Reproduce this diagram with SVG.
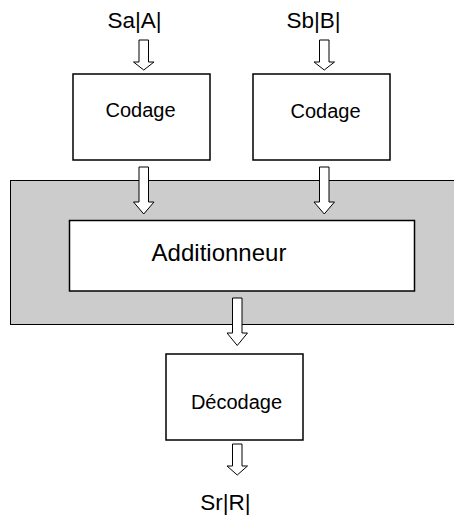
<svg xmlns="http://www.w3.org/2000/svg" width="454" height="515" viewBox="0 0 454 515">
<style>
.box{fill:#fff;stroke:#000;stroke-width:1.5}
.arr{fill:#fff;stroke:#000;stroke-width:1}
text{font-family:"Liberation Sans",Arial,sans-serif;fill:#000}
</style>
<rect width="454" height="515" fill="#fff"/>
<g id="background">
<rect x="10.5" y="180.5" width="450" height="144" fill="#cccccc" stroke="#000" stroke-width="1"/>
</g>
<g id="labels">
<text x="134.5" y="28" font-size="22.5" text-anchor="middle">Sa|A|</text>
<text x="313.5" y="28" font-size="22.5" text-anchor="middle">Sb|B|</text>
<text x="225.5" y="509.5" font-size="22.5" text-anchor="middle">Sr|R|</text>
</g>
<g id="codage-a">
<rect class="box" x="73" y="74" width="137" height="86"/>
<text x="140.5" y="116.5" font-size="20" text-anchor="middle">Codage</text>
</g>
<g id="codage-b">
<rect class="box" x="253" y="74" width="137" height="86"/>
<text x="325.5" y="118" font-size="20" text-anchor="middle">Codage</text>
</g>
<g id="additionneur">
<rect class="box" x="69.5" y="220.5" width="345" height="70.5"/>
<text x="219" y="261" font-size="24" text-anchor="middle">Additionneur</text>
</g>
<g id="decodage">
<rect class="box" x="166" y="354" width="137" height="86"/>
<text x="236.5" y="408.5" font-size="20" text-anchor="middle">Décodage</text>
</g>
<g id="connectors">
<polygon class="arr" points="139,40 148.5,40 148.5,62 154,62 143.75,70 133.5,62 139,62"/>
<polygon class="arr" points="319.5,40 329,40 329,62 334.5,62 324.25,70 314,62 319.5,62"/>
<polygon class="arr" points="139,167 148.5,167 148.5,202 154,202 143.75,214 133.5,202 139,202"/>
<polygon class="arr" points="319.5,167 329,167 329,202 334.5,202 324.25,214 314,202 319.5,202"/>
<polygon class="arr" points="232.5,298 242,298 242,333 247.5,333 237.25,345.5 227,333 232.5,333"/>
<polygon class="arr" points="232.5,444 242,444 242,466 247.5,466 237.25,475 227,466 232.5,466"/>
</g>
</svg>
